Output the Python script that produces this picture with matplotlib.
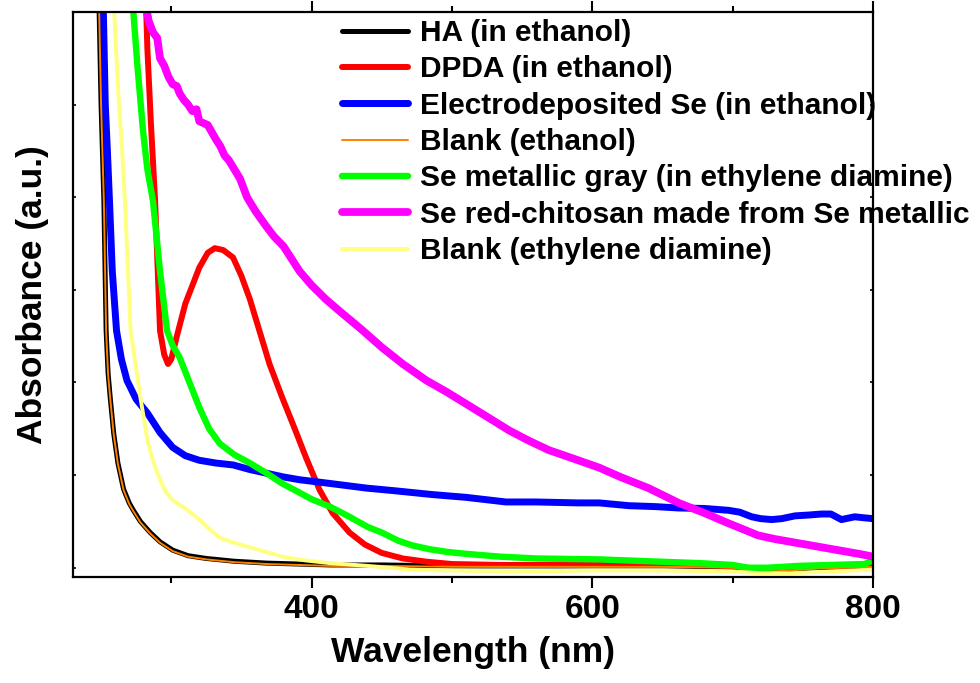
import matplotlib
matplotlib.use("Agg")
import matplotlib.pyplot as plt
from matplotlib.ticker import MultipleLocator

plt.rcParams['font.family'] = ['Liberation Sans', 'DejaVu Sans']
plt.rcParams['font.weight'] = 'bold'

# HA (in ethanol)
ha_x = [248.5, 250, 252, 253.6, 255, 256.5, 259, 262, 266, 270, 273, 278, 285, 292, 301,
        312, 325, 345, 368, 413, 450, 500, 550, 600, 650, 700, 715, 730, 760, 800]
ha_y = [6.1, 5.0, 3.96, 2.56, 2.1, 1.84, 1.45, 1.13, 0.85, 0.70, 0.62, 0.50, 0.38, 0.28, 0.19,
        0.13, 0.10, 0.07, 0.05, 0.03, 0.03, 0.02, 0.02, 0.02, 0.02, 0.01, -0.02, -0.03, 0.0, 0.02]

# DPDA (in ethanol)
dpda_x = [282, 283, 285.5, 288.5, 292, 295, 297.7, 300, 304, 310, 320, 326, 331, 337, 344,
          350, 356, 362, 370, 379, 388, 396, 405.7, 415, 427, 438, 450, 465, 482, 500, 534,
          600, 650, 690, 710, 725, 745, 770, 800]
dpda_y = [6.1, 5.6, 4.8, 3.96, 2.56, 2.3, 2.2, 2.25, 2.5, 2.85, 3.24, 3.40, 3.45, 3.43, 3.35,
          3.15, 2.9, 2.6, 2.2, 1.84, 1.5, 1.19, 0.84, 0.59, 0.38, 0.25, 0.16, 0.10, 0.065, 0.04, 0.03,
          0.03, 0.03, 0.025, 0.0, -0.02, 0.01, 0.02, 0.03]

# Electrodeposited Se (in ethanol)
se_el_x = [251.5, 253, 254.5, 256, 258, 261, 264.5, 268.5, 275, 283, 292, 301, 310, 320, 332,
           344, 356, 368, 380, 391.5, 413, 439, 460, 486, 510, 538.5, 560, 590, 605, 626, 645,
           661.5, 680, 697, 705, 713.6, 720, 727.8, 735, 744.4, 755, 763.3, 770, 777.5, 787, 793, 800]
se_el_y = [6.1, 5.0, 4.5, 3.96, 3.2, 2.56, 2.25, 2.02, 1.82, 1.67, 1.46, 1.30, 1.21, 1.16, 1.13,
           1.11, 1.06, 1.02, 0.98, 0.95, 0.91, 0.86, 0.83, 0.79, 0.76, 0.71, 0.71, 0.70, 0.70, 0.67, 0.66,
           0.645, 0.64, 0.62, 0.60, 0.55, 0.53, 0.52, 0.53, 0.56, 0.57, 0.58, 0.58, 0.52, 0.55, 0.54, 0.53]

# Blank (ethanol)
blank_et_x = [248.5, 250, 252, 253.6, 255, 256.5, 259, 262, 266, 270, 273, 278, 285, 292, 301,
              312, 325, 345, 368, 413, 450, 500, 550, 600, 650, 700, 715, 730, 760, 800]
blank_et_y = [6.1, 5.0, 3.95, 2.55, 2.09, 1.83, 1.44, 1.12, 0.84, 0.69, 0.61, 0.49, 0.37, 0.27, 0.18,
              0.12, 0.09, 0.06, 0.04, 0.02, 0.02, 0.01, 0.01, 0.01, 0.01, 0.0, -0.03, -0.04, -0.01, 0.01]

# Se metallic gray (in ethylene diamine)
se_gray_x = [272.5, 276, 280, 283, 287, 292, 297, 301, 306, 313, 320, 327, 334.6, 345, 356, 368,
             379, 391.5, 400, 413, 427, 440, 450, 462, 472, 484, 497, 510, 534, 560, 605, 640, 676,
             700, 711, 725, 747, 770, 794, 800]
se_gray_y = [6.1, 5.4, 4.7, 4.3, 3.96, 3.2, 2.56, 2.4, 2.27, 2.0, 1.73, 1.5, 1.34, 1.22, 1.13, 1.02,
             0.91, 0.81, 0.74, 0.66, 0.55, 0.44, 0.38, 0.29, 0.24, 0.20, 0.17, 0.15, 0.12, 0.10, 0.09, 0.07, 0.05,
             0.03, 0.0, 0.0, 0.02, 0.03, 0.04, 0.08]

# Se red-chitosan made from Se metallic
se_red_x = [281.4, 284, 287, 290, 292, 295, 298, 301, 304, 306, 309, 312, 315, 318, 320, 323, 326,
            329, 332, 335, 338, 341, 345, 349, 354, 360, 367, 373, 380, 391.5, 400, 410, 420, 435,
            450, 465, 482, 496, 510, 525, 541, 555, 569, 590, 605, 620, 640, 661.5, 680, 697, 710,
            718, 730, 745, 760, 775, 790, 800]
se_red_y = [6.1, 5.9, 5.78, 5.72, 5.5, 5.42, 5.3, 5.22, 5.2, 5.12, 5.05, 5.0, 4.93, 4.95, 4.82, 4.8,
            4.78, 4.7, 4.62, 4.55, 4.45, 4.4, 4.3, 4.2, 4.0, 3.85, 3.7, 3.58, 3.47, 3.2, 3.05, 2.9, 2.77,
            2.58, 2.38, 2.2, 2.02, 1.9, 1.77, 1.63, 1.48, 1.37, 1.27, 1.16, 1.08, 0.98, 0.86, 0.70, 0.59,
            0.48, 0.40, 0.35, 0.31, 0.27, 0.23, 0.19, 0.15, 0.12]

# Blank (ethylene diamine)
blank_ed_x = [259, 262, 265, 267, 271, 275, 278, 283, 287, 292, 296, 301, 310, 320, 327, 335, 345,
              356, 368, 379, 395, 413, 440, 470, 500, 550, 600, 650, 700, 720, 740, 770, 800]
blank_ed_y = [6.1, 5.2, 4.5, 3.96, 2.56, 2.15, 1.84, 1.38, 1.15, 0.95, 0.82, 0.73, 0.64, 0.52, 0.42,
              0.32, 0.27, 0.22, 0.17, 0.12, 0.08, 0.05, 0.02, -0.02, -0.03, -0.04, -0.03, -0.03, -0.04,
              -0.06, -0.06, -0.04, -0.02]

series = [
    (ha_x, ha_y, 'HA (in ethanol)', '#000000', 3.6),
    (dpda_x, dpda_y, 'DPDA (in ethanol)', '#ff0000', 4.3),
    (se_el_x, se_el_y, 'Electrodeposited Se (in ethanol)', '#0000ff', 5.0),
    (blank_et_x, blank_et_y, 'Blank (ethanol)', '#ff8000', 1.4),
    (se_gray_x, se_gray_y, 'Se metallic gray (in ethylene diamine)', '#00ff00', 4.6),
    (se_red_x, se_red_y, 'Se red-chitosan made from Se metallic', '#ff00ff', 5.6),
    (blank_ed_x, blank_ed_y, 'Blank (ethylene diamine)', '#ffff80', 2.8),
]

fig = plt.figure(figsize=(9.8, 6.83), dpi=100)
ax = fig.add_axes([73 / 980, 1 - 577 / 683, 800 / 980, 565 / 683])

for x, y, label, color, lw in series:
    ax.plot(x, y, color=color, lw=lw, label=label, solid_capstyle='round')

ax.set_xlim(230, 800)
ax.set_ylim(-0.1, 6.0)

ax.xaxis.set_major_locator(MultipleLocator(200))
ax.xaxis.set_minor_locator(MultipleLocator(100))
ax.yaxis.set_major_locator(MultipleLocator(1))
ax.set_yticklabels([])

ax.tick_params(axis='x', which='major', direction='out', length=8, width=1.5,
               labelsize=24, pad=4, top=True)
ax.tick_params(axis='x', which='minor', direction='out', length=4.5, width=1.5, top=True)
ax.tick_params(axis='y', which='major', direction='in', length=2.5, width=1.2, right=True)
for t in ax.get_xticklabels():
    t.set_fontweight('bold')

for s in ax.spines.values():
    s.set_linewidth(1.6)

ax.set_xlabel('Wavelength (nm)', fontsize=25.5, fontweight='bold', labelpad=8)
ax.set_ylabel('Absorbance (a.u.)', fontsize=25.5, fontweight='bold', labelpad=14)

leg = fig.legend(loc='upper left', bbox_to_anchor=(342 / 980, 1 - 19 / 683),
                 frameon=False, fontsize=21.5, borderpad=0, borderaxespad=0,
                 handlelength=2.2, handletextpad=0.4, labelspacing=0.28)
for t in leg.get_texts():
    t.set_fontweight('bold')

fig.savefig('out.png', dpi=100)
